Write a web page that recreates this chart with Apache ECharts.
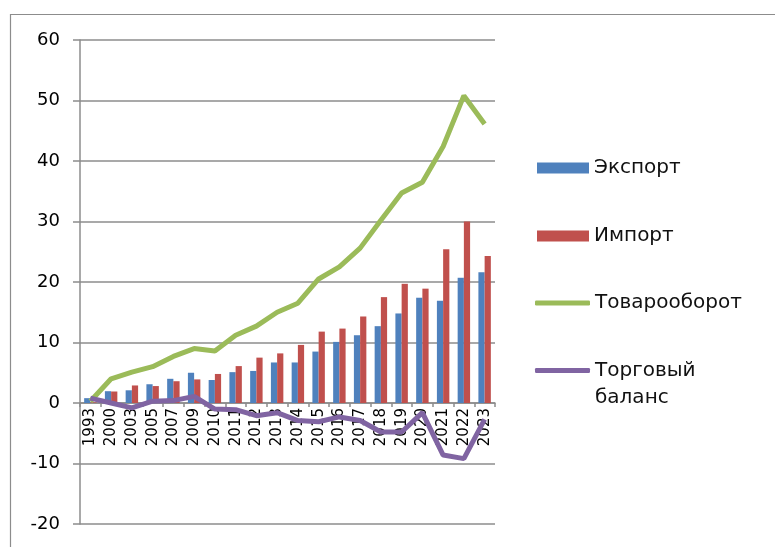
<!DOCTYPE html>
<html>
<head>
<meta charset="utf-8">
<script src="https://cdn.jsdelivr.net/npm/echarts@6/dist/echarts.min.js"></script>
<style>
html,body{margin:0;padding:0;background:#fff;}
#c{width:775px;height:547px;}
</style>
</head>
<body>
<div id="c"></div>
<script>
const categories = ['1993','2000','2003','2005','2007','2009','2010','2011','2012','2013','2014','2015','2016','2017','2018','2019','2020','2021','2022','2023'];
const exportVals = [0.8,1.95,2.1,3.1,4.0,5.0,3.8,5.1,5.3,6.7,6.7,8.5,10.1,11.2,12.7,14.8,17.4,16.9,20.7,21.6];
const importVals = [0.1,1.9,2.9,2.8,3.6,3.9,4.8,6.1,7.5,8.2,9.6,11.8,12.3,14.3,17.5,19.7,18.9,25.4,30.0,24.3];
const turnoverVals = [0.3,4.0,5.1,6.0,7.7,9.0,8.6,11.2,12.7,15.0,16.5,20.5,22.5,25.6,30.2,34.7,36.5,42.4,50.8,46.1];
const balanceVals = [0.8,0.0,-0.8,0.3,0.4,1.1,-1.0,-1.1,-2.1,-1.6,-2.9,-3.1,-2.3,-2.9,-4.8,-4.8,-1.6,-8.6,-9.2,-2.7];
const yTicks = {min:-20, max:60, interval:10};

const FONT = 'DejaVu Sans';
const C_EXP = '#4F81BD', C_IMP = '#C0504D', C_TURN = '#9BBB59', C_BAL = '#8064A2';
const GRID_C = '#8c8c8c';

const GRID = {left:80, right:280, top:40, bottom:23};
const plotH = 547 - GRID.top - GRID.bottom;
// distance from bottom of plot to the zero line (x axis drawn at zero)
const zeroOffset = plotH * (0 - yTicks.min) / (yTicks.max - yTicks.min);

const legendBase = {
  orient:'vertical', padding:0, selectedMode:false,
  textStyle:{fontFamily:FONT, fontSize:20, color:'#111', lineHeight:24}
};

const chart = echarts.init(document.getElementById('c'));
chart.setOption({
  animation:false,
  backgroundColor:'#fff',
  graphic:[{
    type:'rect', left:8, top:12, silent:true, z:-1,
    shape:{width:800, height:600},
    style:{fill:'none', stroke:'#8c8c8c', lineWidth:1.2}
  }],
  grid:{left:GRID.left, right:GRID.right, top:GRID.top, bottom:GRID.bottom, containLabel:false, outerBoundsMode:'none'},
  legend:[
    Object.assign({}, legendBase, {left:537, top:156, itemWidth:52, itemHeight:11, icon:'rect', data:['Экспорт']}),
    Object.assign({}, legendBase, {left:537, top:224, itemWidth:52, itemHeight:11, icon:'rect', data:['Импорт']}),
    Object.assign({}, legendBase, {left:535, top:291, itemWidth:55, itemHeight:5, icon:'roundRect', data:['Товарооборот']}),
    Object.assign({}, legendBase, {left:535, top:330, itemWidth:55, itemHeight:5, icon:'roundRect',
      textStyle:{fontFamily:FONT, fontSize:20, color:'#111', lineHeight:27},
      data:['Торговый баланс'],
      formatter:function(n){return ' \nТорговый\nбаланс';}})
  ],
  xAxis:{
    type:'category', data:categories, position:'bottom', offset:-zeroOffset, z:0,
    axisLine:{onZero:false, lineStyle:{color:GRID_C, width:1.5}},
    axisTick:{show:true, length:4, lineStyle:{color:GRID_C, width:1.5}},
    axisLabel:{interval:0, rotate:90, margin:5, fontFamily:FONT, fontSize:15, color:'#000'},
    splitLine:{show:false}
  },
  yAxis:{
    type:'value', min:yTicks.min, max:yTicks.max, interval:yTicks.interval, z:0,
    axisLine:{show:true, lineStyle:{color:GRID_C, width:1.5}},
    axisTick:{show:true, length:7, lineStyle:{color:GRID_C, width:1.5}},
    axisLabel:{margin:20, fontFamily:FONT, fontSize:18, color:'#000'},
    splitLine:{show:true, lineStyle:{color:GRID_C, width:1.5}}
  },
  series:[
    {name:'Экспорт', type:'bar', data:exportVals, itemStyle:{color:C_EXP}, barGap:'0%', barCategoryGap:'40%', z:2},
    {name:'Импорт', type:'bar', data:importVals, itemStyle:{color:C_IMP}, barGap:'0%', barCategoryGap:'40%', z:2},
    {name:'Товарооборот', type:'line', data:turnoverVals, symbol:'none', lineStyle:{color:C_TURN, width:5}, itemStyle:{color:C_TURN}, zlevel:1, z:10},
    {name:'Торговый баланс', type:'line', data:balanceVals, symbol:'none', lineStyle:{color:C_BAL, width:5}, itemStyle:{color:C_BAL}, zlevel:1, z:11}
  ]
});
</script>
</body>
</html>
